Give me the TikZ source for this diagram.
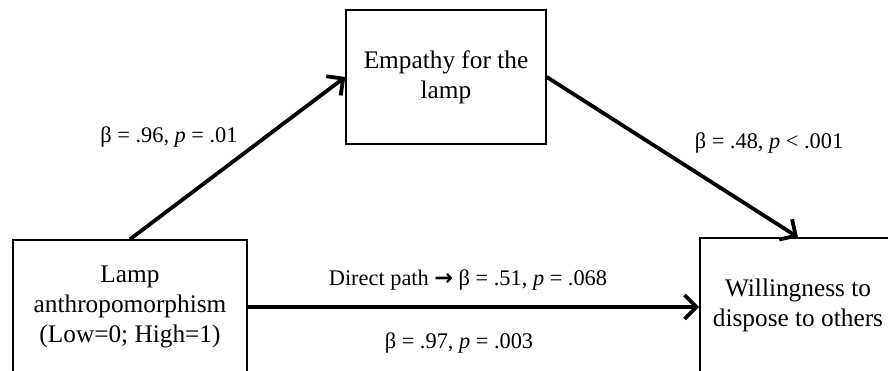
\documentclass[tikz,border=0pt]{standalone}
\usepackage{fontspec}
\setmainfont{Liberation Serif}
\newfontfamily\arrowfont{DejaVu Sans}
\usetikzlibrary{arrows.meta}
\tikzset{
  box/.style={
    draw,
    line width=0.7pt,
    shape = rectangle,
    align = center,
    inner sep = 0pt,
    minimum height = 2.233cm,
    font = \fontsize{12}{14.2}\selectfont
  },
  link/.style={
    line width=1.8pt,
    -{Straight Barb[length=2mm,width=4mm,line width=1.8pt]}
  },
  coef/.style={
    inner sep = 1pt,
    font = \fontsize{10.6}{12.7}\selectfont
  }
}
\begin{document}
\begin{tikzpicture}[x=0.016667cm,y=-0.016667cm]
        \useasboundingbox (0,0) rectangle (888,371);
        \clip (0,0) rectangle (888,371);

        \node[box, minimum width=3.9cm] (lamp) at (130,307) {Lamp\\anthropomorphism\\(Low=0; High=1)};
        \node[box, minimum width=3.333cm] (empathy) at (446,77) {Empathy for the\\lamp};
        \node[box, minimum width=3.267cm] (dispose) at (798,305) {Willingness to\\dispose to others};

        \draw[link] (lamp.north) -- (empathy.west);
        \draw[link] (empathy.east) -- (dispose.north);
        \draw[link] (lamp.east) -- (lamp.east -| dispose.west);

        \node[coef] (bA) at (169,137) {β = .96, \textit{p} = .01};
        \node[coef] (bB) at (769,143) {β = .48, \textit{p} < .001};
        \node[coef] (bC) at (468,280) {Direct path {\arrowfont\bfseries →} β = .51, \textit{p} = .068};
        \node[coef] (bD) at (459,343) {β = .97, \textit{p} = .003};
\end{tikzpicture}
\end{document}
